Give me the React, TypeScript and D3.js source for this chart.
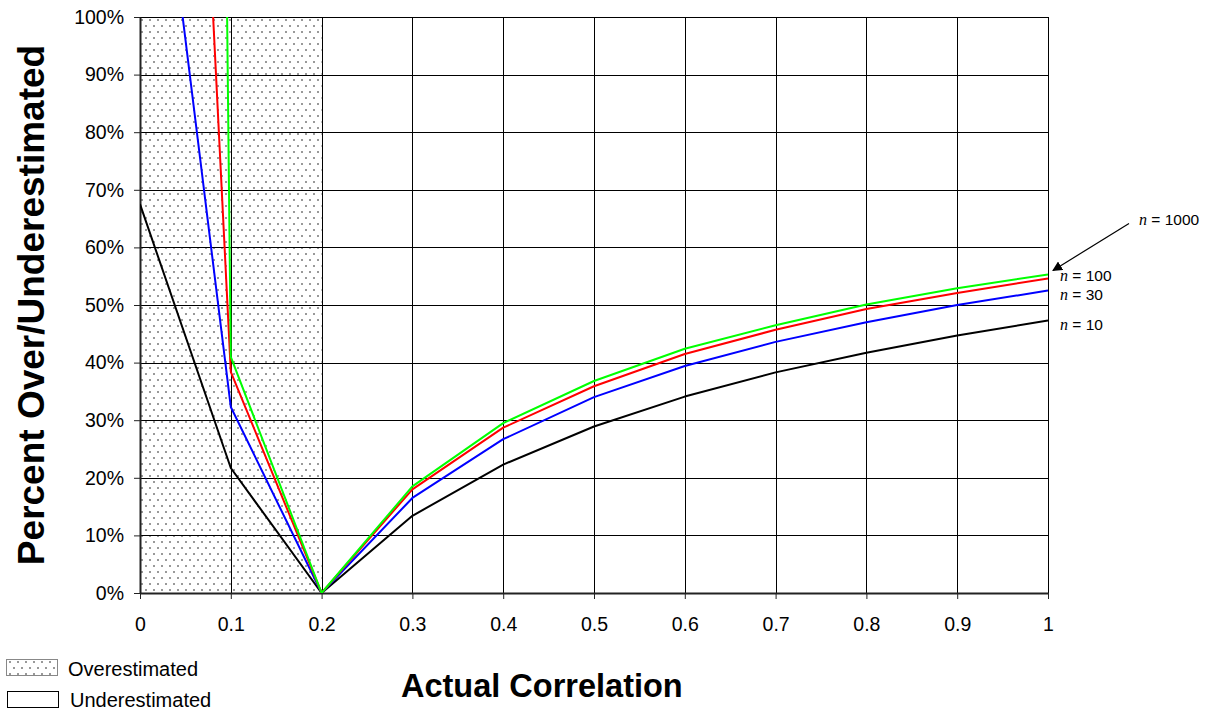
import React, { useRef, useEffect } from "react";
import * as d3 from "d3";

// actual correlation (x) and percent over/underestimated (y, %) for each sample size
const xValues = [0, 0.1, 0.2, 0.3, 0.4, 0.5, 0.6, 0.7, 0.8, 0.9, 1];
const n10 = [67.5, 21.7, 0, 13.4, 22.3, 28.9, 34.1, 38.3, 41.7, 44.7, 47.3];
const n30 = [160, 32.3, 0, 16.5, 26.7, 34.0, 39.4, 43.6, 47.0, 50.0, 52.5];
const n100 = [355, 38.4, 0, 18.0, 28.7, 35.9, 41.5, 45.7, 49.3, 52.1, 54.6];
const n1000 = [1500, 41.0, 0, 18.5, 29.5, 36.8, 42.4, 46.5, 50.1, 52.9, 55.3];

const yTicks = [0, 10, 20, 30, 40, 50, 60, 70, 80, 90, 100];
const xTickLabels = ["0", "0.1", "0.2", "0.3", "0.4", "0.5", "0.6", "0.7", "0.8", "0.9", "1"];
const overestimatedRange = [0, 0.2];
const legendLabels = ["Overestimated", "Underestimated"];

const series = [
  { n: "10", values: n10, color: "#000000", labelDy: 9 },
  { n: "30", values: n30, color: "#0000ff", labelDy: 9 },
  { n: "100", values: n100, color: "#ff0000", labelDy: 2.5 },
  { n: "1000", values: n1000, color: "#00ff00", labelDy: 0 },
];

const FONT = "'Liberation Sans', Arial, sans-serif";

const App = () => {
  const svgRef = useRef(null);

  useEffect(() => {
    const width = 1216;
    const height = 712;
    const margin = { top: 17, right: 168, bottom: 119, left: 140 };

    const svg = d3.select(svgRef.current);
    svg.selectAll("*").remove();

    const x = d3.scaleLinear().domain([0, 1]).range([margin.left, width - margin.right]);
    const y = d3.scaleLinear().domain([0, 100]).range([height - margin.bottom, margin.top]);

    const defs = svg.append("defs");
    const pat = defs.append("pattern")
      .attr("id", "dots")
      .attr("patternUnits", "userSpaceOnUse")
      .attr("width", 8)
      .attr("height", 12);
    pat.append("rect").attr("width", 8).attr("height", 12).attr("fill", "#fff");
    pat.append("rect").attr("x", 1).attr("y", 1).attr("width", 2).attr("height", 2).attr("fill", "#999");
    pat.append("rect").attr("x", 5).attr("y", 7).attr("width", 2).attr("height", 2).attr("fill", "#999");

    defs.append("clipPath").attr("id", "plot-clip")
      .append("rect")
      .attr("x", x(0))
      .attr("y", y(100))
      .attr("width", x(1) - x(0))
      .attr("height", y(0) - y(100));

    defs.append("marker")
      .attr("id", "arrow")
      .attr("viewBox", "0 0 10 10")
      .attr("refX", 9)
      .attr("refY", 5)
      .attr("markerWidth", 10)
      .attr("markerHeight", 10)
      .attr("markerUnits", "userSpaceOnUse")
      .attr("orient", "auto")
      .append("path")
      .attr("d", "M0,0 L10,5 L0,10 Z")
      .attr("fill", "#000");

    // overestimated band
    svg.append("rect")
      .attr("x", x(overestimatedRange[0]))
      .attr("y", y(100))
      .attr("width", x(overestimatedRange[1]) - x(overestimatedRange[0]))
      .attr("height", y(0) - y(100))
      .attr("fill", "url(#dots)");

    // grid
    svg.append("g")
      .selectAll("line")
      .data(yTicks)
      .enter()
      .append("line")
      .attr("x1", x(0))
      .attr("x2", x(1))
      .attr("y1", d => Math.round(y(d)) + 0.5)
      .attr("y2", d => Math.round(y(d)) + 0.5)
      .attr("stroke", "#000")
      .attr("stroke-width", 1);

    svg.append("g")
      .selectAll("line")
      .data(xValues)
      .enter()
      .append("line")
      .attr("x1", d => Math.round(x(d)) + 0.5)
      .attr("x2", d => Math.round(x(d)) + 0.5)
      .attr("y1", y(100))
      .attr("y2", y(0))
      .attr("stroke", "#000")
      .attr("stroke-width", 1);

    // axes
    const yAxis = svg.append("g")
      .attr("transform", `translate(${x(0)},0)`)
      .call(d3.axisLeft(y).tickValues(yTicks).tickFormat(d => d + "%").tickSizeInner(6).tickSizeOuter(0).tickPadding(10));
    const xAxis = svg.append("g")
      .attr("transform", `translate(0,${y(0)})`)
      .call(d3.axisBottom(x).tickValues(xValues).tickFormat((d, i) => xTickLabels[i]).tickSizeInner(6).tickSizeOuter(0).tickPadding(18));

    [yAxis, xAxis].forEach(g => {
      g.select(".domain").attr("stroke", "#222").attr("stroke-width", 2);
      g.selectAll(".tick line").attr("stroke", "#222");
      g.selectAll(".tick text")
        .attr("font-family", FONT)
        .attr("font-size", 19.5)
        .attr("fill", "#000");
    });

    // series lines
    const line = d3.line()
      .x((d, i) => x(xValues[i]))
      .y(d => y(d));

    const lines = svg.append("g").attr("clip-path", "url(#plot-clip)");
    series.forEach(s => {
      lines.append("path")
        .datum(s.values)
        .attr("fill", "none")
        .attr("stroke", s.color)
        .attr("stroke-width", 2)
        .attr("stroke-linejoin", "round")
        .attr("d", line);
    });

    // series labels
    const last = xValues.length - 1;
    const labelText = (sel, n) => {
      sel.append("tspan")
        .attr("font-family", "'Liberation Serif', 'Times New Roman', serif")
        .attr("font-style", "italic")
        .attr("font-size", 16)
        .text("n");
      sel.append("tspan").text(` = ${n}`);
    };

    series.slice(0, 3).forEach(s => {
      const t = svg.append("text")
        .attr("x", x(1) + 12)
        .attr("y", y(s.values[last]) + s.labelDy)
        .attr("font-family", FONT)
        .attr("font-size", 15.5)
        .attr("fill", "#000");
      labelText(t, s.n);
    });

    const top = series[3];
    const tipX = x(1) + 5;
    const tipY = y(top.values[last]) - 4;
    svg.append("line")
      .attr("x1", tipX + 76)
      .attr("y1", tipY - 47)
      .attr("x2", tipX)
      .attr("y2", tipY)
      .attr("stroke", "#000")
      .attr("stroke-width", 1.2)
      .attr("marker-end", "url(#arrow)");
    const t1000 = svg.append("text")
      .attr("x", tipX + 86)
      .attr("y", tipY - 45)
      .attr("font-family", FONT)
      .attr("font-size", 15.5)
      .attr("fill", "#000");
    labelText(t1000, top.n);

    // axis titles
    svg.append("text")
      .attr("transform", `translate(44,${(y(0) + y(100)) / 2}) rotate(-90)`)
      .attr("text-anchor", "middle")
      .attr("font-family", FONT)
      .attr("font-weight", "bold")
      .attr("font-size", 37)
      .attr("fill", "#000")
      .text("Percent Over/Underestimated");

    svg.append("text")
      .attr("x", 401)
      .attr("y", 697)
      .attr("font-family", FONT)
      .attr("font-weight", "bold")
      .attr("font-size", 32.5)
      .attr("fill", "#000")
      .text("Actual Correlation");

    // legend
    const legend = svg.append("g");
    legend.append("rect")
      .attr("x", 6.5).attr("y", 659.5).attr("width", 51).attr("height", 16)
      .attr("fill", "url(#dots)").attr("stroke", "#888");
    legend.append("rect")
      .attr("x", 7.5).attr("y", 691.5).attr("width", 51).attr("height", 16)
      .attr("fill", "#fff").attr("stroke", "#000");
    legend.selectAll(".legend-text")
      .data(legendLabels)
      .enter()
      .append("text")
      .attr("class", "legend-text")
      .attr("x", (d, i) => 68 + i * 2)
      .attr("y", (d, i) => 676 + i * 31)
      .attr("font-family", FONT)
      .attr("font-size", 20)
      .attr("fill", "#000")
      .text(d => d);
  }, []);

  return (
    <div style={{ position: "fixed", left: 0, top: 0, width: 1216, height: 712, background: "#fff" }}>
      <svg ref={svgRef} width={1216} height={712}></svg>
    </div>
  );
};

export default App;
